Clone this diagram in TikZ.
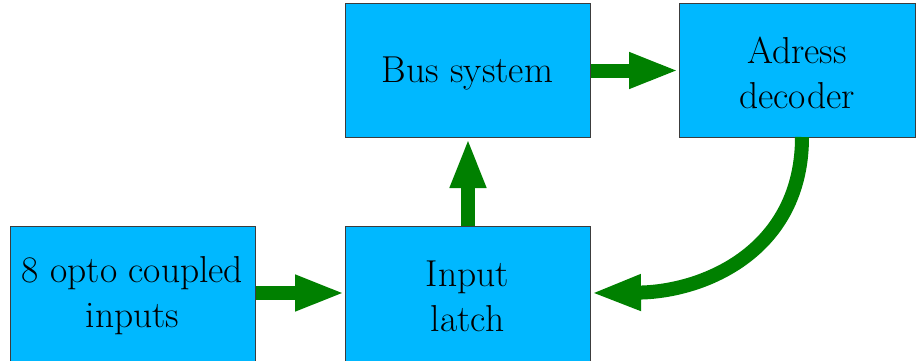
\documentclass[tikz,border=0pt]{standalone}
\usetikzlibrary{arrows.meta}
\definecolor{boxfill}{RGB}{0,184,255}
\definecolor{boxline}{RGB}{60,60,60}
\definecolor{flow}{RGB}{0,128,0}
\tikzset{
  block/.style={draw=boxline, fill=boxfill, line width=1pt, inner sep=0pt,
    anchor=north west},
  lbl/.style={font=\fontsize{37.5}{45}\selectfont, align=center, inner sep=0pt},
  flowarrow/.style={draw=flow, line width=14pt,
    -{Triangle[length=50pt, width=33pt]}, color=flow},
}
\begin{document}
\begin{tikzpicture}[x=1pt, y=-1pt]
  \useasboundingbox (0,0) rectangle (917,360);
  \begin{scope}
    \clip (0,0) rectangle (917,360);
    % blocks
    \node[block, minimum width=245pt, minimum height=138pt] (inp) at (10,226) {};
    \node[block, minimum width=245pt, minimum height=138pt] (latch) at (345,226) {};
    \node[block, minimum width=245pt, minimum height=134pt] (bus) at (345,3) {};
    \node[block, minimum width=236pt, minimum height=134pt] (dec) at (679,3) {};
    % labels
    \node[lbl] (tinp) at (132.5,296) {8 opto coupled\\inputs};
    \node[lbl] (tlatch) at (467.5,296) {Input\\latch};
    \node[lbl] (tbus) at (467.5,73) {Bus system};
    \node[lbl] (tdec) at (797,73) {Adress\\decoder};
    % connections
    \coordinate (inpR) at (inp.east |- 0,293);
    \coordinate (latchL) at (latch.west |- 0,293);
    \coordinate (latchR) at (latch.east |- 0,293);
    \coordinate (decB) at (802,137);
    \draw[flowarrow] (inpR) -- (latchL);
    \draw[flowarrow] (latch.north) -- (bus.south);
    \draw[flowarrow] (bus.east) -- (dec.west);
    \draw[flowarrow] (decB) .. controls (802,250) and (705,292) .. (latchR);
  \end{scope}
\end{tikzpicture}
\end{document}
